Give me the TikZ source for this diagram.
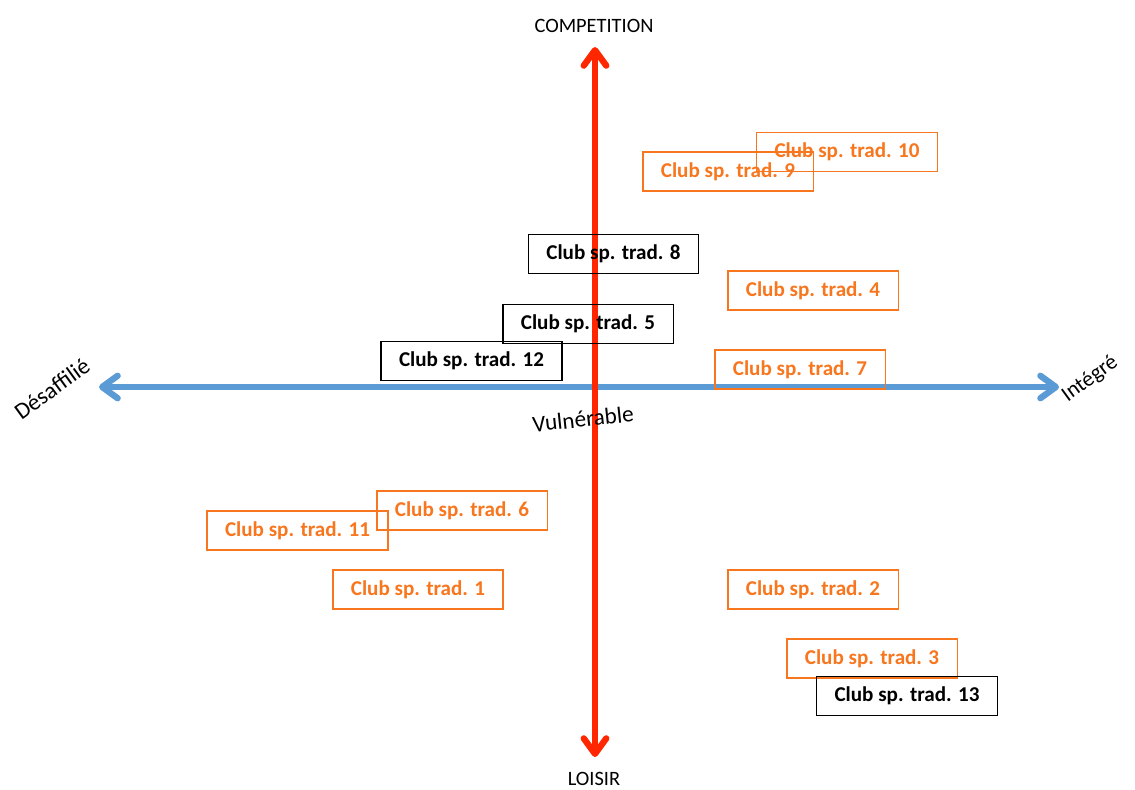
\documentclass[tikz,border=0pt]{standalone}
\usepackage{fontspec}
\setmainfont{Carlito}
\usetikzlibrary{arrows.meta}
\definecolor{axisred}{RGB}{255,38,0}
\definecolor{axisblue}{RGB}{91,155,213}
\definecolor{cluborange}{RGB}{247,118,30}
\begin{document}
\begin{tikzpicture}[x=0.025cm,y=-0.025cm]
\tikzstyle{club}=[draw,line width=0.9pt,inner xsep=0.45cm,minimum height=0.975cm,font=\fontsize{15}{17}\selectfont\bfseries]
\tikzstyle{trad}=[club,draw=cluborange,text=cluborange]
\tikzstyle{newclub}=[club,draw=black,text=black]
\tikzstyle{axislabel}=[inner sep=0pt,font=\fontsize{14.5}{16}\selectfont]
\tikzstyle{sidelabel}=[inner sep=0pt,font=\fontsize{16.5}{18}\selectfont]
\tikzstyle{axis}=[line width=4.5pt,line cap=round,{Straight Barb[length=11pt,width=16pt,round]}-{Straight Barb[length=11pt,width=16pt,round]}]
\useasboundingbox (0,0) rectangle (1135,789);
% axes
\coordinate (top) at (595,47);
\coordinate (bottom) at (595,757);
\coordinate (left) at (99,387);
\coordinate (right) at (1059,387);
\draw [axis,axisblue] (left) -- (right);
\draw [axis,axisred] (bottom) -- (top);
\node [axislabel] (competition) at (594,26) {COMPETITION};
\node [axislabel] (loisir) at (594,779) {LOISIR};
\node [sidelabel,rotate=36] (desaffilie) at (52,389) {Désaffilié};
\node [sidelabel,font=\fontsize{15.5}{17}\selectfont,rotate=36] (integre) at (1090,379) {Intégré};
\node [sidelabel,rotate=6] (vulnerable) at (583,419) {Vulnérable};
% clubs
\node [trad] (c10) at (847,152) {Club sp. trad. 10};
\node [trad] (c9) at (728,171.5) {Club sp. trad. 9};
\node [newclub] (c8) at (613.5,254) {Club sp. trad. 8};
\node [trad] (c4) at (813,290.5) {Club sp. trad. 4};
\node [newclub] (c5) at (588,324) {Club sp. trad. 5};
\node [newclub] (c12) at (471.5,361) {Club sp. trad. 12};
\node [trad] (c7) at (800,369.5) {Club sp. trad. 7};
\node [trad] (c6) at (462,510.5) {Club sp. trad. 6};
\node [trad] (c11) at (297.5,530.5) {Club sp. trad. 11};
\node [trad] (c1) at (418,589.5) {Club sp. trad. 1};
\node [trad] (c2) at (813,589.5) {Club sp. trad. 2};
\node [trad] (c3) at (872,658.5) {Club sp. trad. 3};
\node [newclub] (c13) at (907,696) {Club sp. trad. 13};
\end{tikzpicture}
\end{document}
